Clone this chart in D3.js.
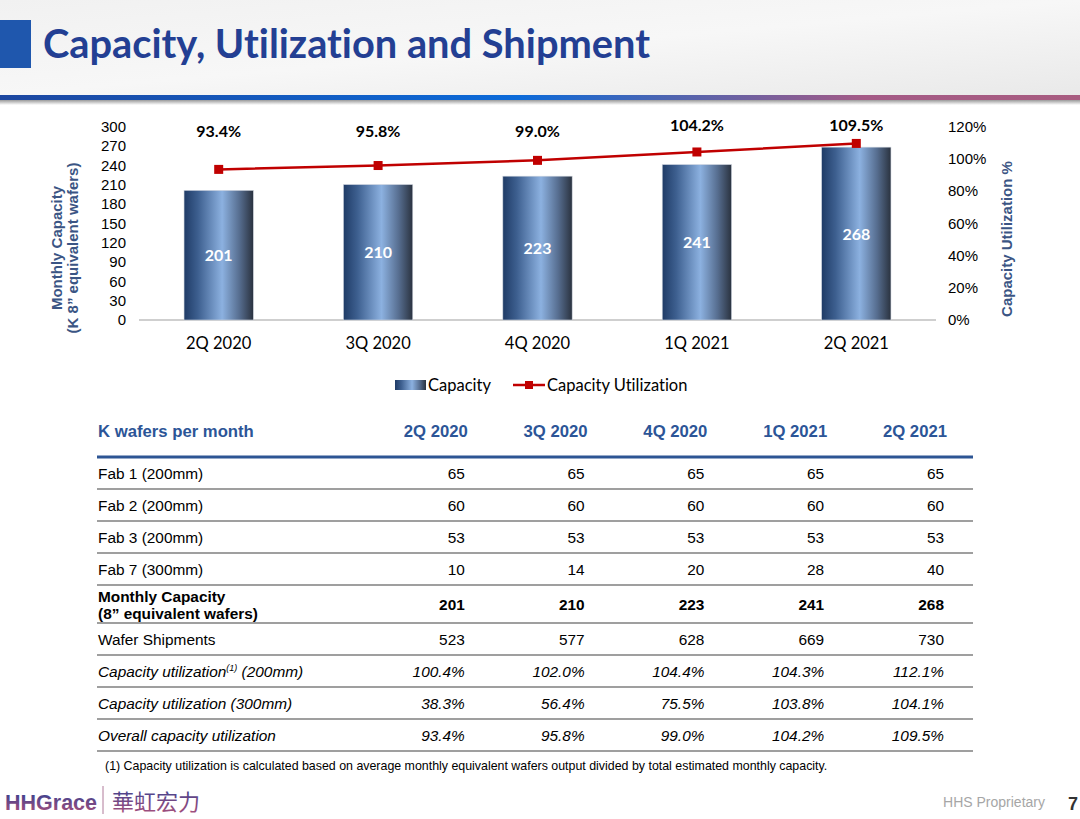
<!DOCTYPE html>
<html><head><meta charset="utf-8">
<script src="https://cdn.jsdelivr.net/npm/d3@7"></script>
<style>
html,body{margin:0;padding:0;background:#fff;}
svg{display:block;font-variant-ligatures:none;}
</style></head>
<body>
<svg id="c" width="1080" height="819"></svg>
<script>
// ---------- DATA ----------
const categories = ["2Q 2020","3Q 2020","4Q 2020","1Q 2021","2Q 2021"];
const capacity = [201,210,223,241,268];
const utilization = [93.4,95.8,99.0,104.2,109.5];
const leftTicks = [0,30,60,90,120,150,180,210,240,270,300];
const rightTicks = [0,20,40,60,80,100,120];
const fab1 = [65,65,65,65,65];
const fab2 = [60,60,60,60,60];
const fab3 = [53,53,53,53,53];
const fab7 = [10,14,20,28,40];
const shipments = [523,577,628,669,730];
const util200 = [100.4,102.0,104.4,104.3,112.1];
const util300 = [38.3,56.4,75.5,103.8,104.1];

const svg = d3.select("#c");
const defs = svg.append("defs");

// ---------- HEADER ----------
const hg = defs.append("linearGradient").attr("id","hdr").attr("x1",0).attr("x2",1).attr("y1",0).attr("y2",1);
hg.append("stop").attr("offset","0%").attr("stop-color","#f1f1f1");
hg.append("stop").attr("offset","50%").attr("stop-color","#f7f7f7");
hg.append("stop").attr("offset","100%").attr("stop-color","#e9e9e9");
svg.append("rect").attr("x",0).attr("y",0).attr("width",1080).attr("height",95).attr("fill","url(#hdr)");
const band = defs.append("linearGradient").attr("id","band");
band.append("stop").attr("offset","0%").attr("stop-color","#1d47a0");
band.append("stop").attr("offset","48%").attr("stop-color","#0b6ad9");
band.append("stop").attr("offset","62%").attr("stop-color","#4e64b0");
band.append("stop").attr("offset","80%").attr("stop-color","#a45a86");
band.append("stop").attr("offset","100%").attr("stop-color","#a85c80");
const shadow = defs.append("linearGradient").attr("id","shd").attr("x1",0).attr("x2",0).attr("y1",0).attr("y2",1);
shadow.append("stop").attr("offset","0%").attr("stop-color","#9a9a9a");
shadow.append("stop").attr("offset","100%").attr("stop-color","#ffffff");
svg.append("rect").attr("x",0).attr("y",100).attr("width",1080).attr("height",5).attr("fill","url(#shd)");
svg.append("rect").attr("x",0).attr("y",95).attr("width",1080).attr("height",5).attr("fill","url(#band)");
svg.append("rect").attr("x",0).attr("y",20).attr("width",31).attr("height",48).attr("fill","#1f57ad");
svg.append("text").attr("x",43).attr("y",58)
  .attr("font-family","Lato, 'Open Sans', sans-serif").attr("font-weight","bold").attr("font-size",41)
  .attr("fill","#233f93").attr("textLength",607).attr("lengthAdjust","spacingAndGlyphs")
  .text("Capacity, Utilization and Shipment");

// ---------- CHART ----------
const x = d3.scaleBand().domain(categories).range([139,936]).paddingInner(0.565).paddingOuter(0.2825);
const yL = d3.scaleLinear().domain([0,300]).range([320,126.5]);
const yR = d3.scaleLinear().domain([0,120]).range([320,126.5]);

const bg = defs.append("linearGradient").attr("id","bar");
[["0%","#1f3b66"],["20%","#3d5f8f"],["55%","#8cb1e0"],["80%","#566d8f"],["100%","#2a323f"]]
  .forEach(([o,c])=>bg.append("stop").attr("offset",o).attr("stop-color",c));

// left ticks
svg.append("g").attr("transform","translate(139,0)")
  .call(d3.axisLeft(yL).tickValues(leftTicks).tickSize(0).tickPadding(13))
  .call(g=>g.select(".domain").remove())
  .call(g=>g.selectAll("text").attr("font-family","'Liberation Sans', Arial, sans-serif").attr("font-size",15).attr("fill","#000"));
// right ticks
svg.append("g").attr("transform","translate(935,0)")
  .call(d3.axisRight(yR).tickValues(rightTicks).tickSize(0).tickPadding(13).tickFormat(d=>d+"%"))
  .call(g=>g.select(".domain").remove())
  .call(g=>g.selectAll("text").attr("font-family","'Liberation Sans', Arial, sans-serif").attr("font-size",15).attr("fill","#000"));

// baseline
svg.append("line").attr("x1",139).attr("x2",936).attr("y1",yL(0)).attr("y2",yL(0)).attr("stroke","#bfbfbf").attr("stroke-width",1.5);

// bars
svg.append("g").selectAll("rect").data(capacity).join("rect")
  .attr("x",(d,i)=>x(categories[i])).attr("width",x.bandwidth())
  .attr("y",d=>yL(d)).attr("height",d=>yL(0)-yL(d))
  .attr("fill","url(#bar)").attr("stroke","#d0d6df").attr("stroke-width",0.6);
svg.append("g").selectAll("text").data(capacity).join("text")
  .attr("x",(d,i)=>x(categories[i])+x.bandwidth()/2).attr("y",d=>(yL(d)+yL(0))/2+6)
  .attr("text-anchor","middle").attr("font-family","Lato, sans-serif").attr("font-weight","bold")
  .attr("font-size",16).attr("fill","#fff").text(d=>d);

// category labels
svg.append("g").selectAll("text").data(categories).join("text")
  .attr("x",d=>x(d)+x.bandwidth()/2).attr("y",349).attr("text-anchor","middle")
  .attr("font-family","Lato, sans-serif").attr("font-size",16.5).attr("fill","#000").text(d=>d);

// line
const cx = (i)=>x(categories[i])+x.bandwidth()/2;
svg.append("path").datum(utilization)
  .attr("d",d3.line().x((d,i)=>cx(i)).y(d=>yR(d)))
  .attr("fill","none").attr("stroke","#c00000").attr("stroke-width",2.5);
svg.append("g").selectAll("rect").data(utilization).join("rect")
  .attr("x",(d,i)=>cx(i)-4.5).attr("y",d=>yR(d)-4.5).attr("width",9).attr("height",9).attr("fill","#c00000");
svg.append("g").selectAll("text").data(utilization).join("text")
  .attr("x",(d,i)=>cx(i)).attr("y",d=>d>100?131:137).attr("text-anchor","middle")
  .attr("font-family","Lato, sans-serif").attr("font-weight","bold").attr("font-size",16).attr("fill","#000")
  .text(d=>d.toFixed(1)+"%");

// axis titles
const axTitle = {"font-family":"'Liberation Sans', Arial, sans-serif","font-weight":"bold","font-size":15,"fill":"#3b5584"};
function applyAttrs(sel,o){for(const k in o) sel.attr(k,o[k]); return sel;}
applyAttrs(svg.append("text"),axTitle).attr("transform","translate(62,248) rotate(-90)").attr("text-anchor","middle").text("Monthly Capacity");
applyAttrs(svg.append("text"),axTitle).attr("transform","translate(78,248) rotate(-90)").attr("text-anchor","middle").text("(K 8\u201D equivalent wafers)");
applyAttrs(svg.append("text"),axTitle).attr("transform","translate(1012,239) rotate(-90)").attr("text-anchor","middle").text("Capacity Utilization %");

// legend
svg.append("rect").attr("x",395).attr("y",380).attr("width",31).attr("height",10).attr("fill","url(#bar)");
svg.append("text").attr("x",428).attr("y",391).attr("font-family","Lato, sans-serif").attr("font-size",16.5).text("Capacity");
svg.append("line").attr("x1",513).attr("x2",545).attr("y1",385).attr("y2",385).attr("stroke","#c00000").attr("stroke-width",2.5);
svg.append("rect").attr("x",525).attr("y",381).attr("width",8).attr("height",8).attr("fill","#c00000");
svg.append("text").attr("x",547).attr("y",391).attr("font-family","Lato, sans-serif").attr("font-size",16.5).text("Capacity Utilization");

// ---------- TABLE ----------
const tx = d3.scaleBand().domain(categories).range([346,945]);
const colRight = c=>tx(c)+tx.bandwidth();
const F = "'Liberation Sans', Arial, sans-serif";
const FS = 15.4;
svg.append("text").attr("x",98).attr("y",437).attr("font-family",F).attr("font-weight","bold").attr("font-size",16.7).attr("fill","#2c5597").text("K wafers per month");
svg.append("g").selectAll("text").data(categories).join("text")
  .attr("x",d=>colRight(d)+2).attr("y",437).attr("text-anchor","end")
  .attr("font-family",F).attr("font-weight","bold").attr("font-size",16.7).attr("fill","#2c5597").text(d=>d);
svg.append("line").attr("x1",97).attr("x2",973).attr("y1",457).attr("y2",457).attr("stroke","#2d5594").attr("stroke-width",3);

const rows = [
  {label:["Fab 1 (200mm)"], vals:fab1, fmt:d=>d, h:32},
  {label:["Fab 2 (200mm)"], vals:fab2, fmt:d=>d, h:32},
  {label:["Fab 3 (200mm)"], vals:fab3, fmt:d=>d, h:32},
  {label:["Fab 7 (300mm)"], vals:fab7, fmt:d=>d, h:32},
  {label:["Monthly Capacity","(8\u201D equivalent wafers)"], vals:capacity, fmt:d=>d, h:38, bold:true},
  {label:["Wafer Shipments"], vals:shipments, fmt:d=>d, h:32},
  {label:["Capacity utilization","(1)"," (200mm)"], vals:util200, fmt:d=>d.toFixed(1)+"%", h:32, italic:true, sup:true},
  {label:["Capacity utilization (300mm)"], vals:util300, fmt:d=>d.toFixed(1)+"%", h:32, italic:true},
  {label:["Overall capacity utilization"], vals:utilization, fmt:d=>d.toFixed(1)+"%", h:32, italic:true}
];
let rowTop = 457;
rows.forEach(r=>{
  const mid = rowTop + r.h/2;
  const base = mid + 5.5;
  const st = r.italic ? "italic" : "normal";
  const wt = r.bold ? "bold" : "normal";
  if (r.label.length===2 && !r.sup) {
    svg.append("text").attr("x",98).attr("y",mid-2).attr("font-family",F).attr("font-weight",wt).attr("font-size",FS).text(r.label[0]);
    svg.append("text").attr("x",98).attr("y",mid+15).attr("font-family",F).attr("font-weight",wt).attr("font-size",FS).text(r.label[1]);
  } else if (r.sup) {
    const t = svg.append("text").attr("x",98).attr("y",base).attr("font-family",F).attr("font-style",st).attr("font-size",FS);
    t.append("tspan").text(r.label[0]);
    t.append("tspan").attr("font-size",9).attr("dy",-6).text(r.label[1]);
    t.append("tspan").attr("dy",6).text(r.label[2]);
  } else {
    svg.append("text").attr("x",98).attr("y",base).attr("font-family",F).attr("font-style",st).attr("font-weight",wt).attr("font-size",FS).text(r.label[0]);
  }
  svg.append("g").selectAll("text").data(r.vals).join("text")
    .attr("x",(d,i)=>colRight(categories[i])-1).attr("y",base).attr("text-anchor","end")
    .attr("font-family",F).attr("font-style",st).attr("font-weight",wt).attr("font-size",FS).text(r.fmt);
  rowTop += r.h;
  svg.append("line").attr("x1",97).attr("x2",973).attr("y1",rowTop).attr("y2",rowTop).attr("stroke","#7f7f7f").attr("stroke-width",1.5);
});

svg.append("text").attr("x",105).attr("y",770).attr("font-family",F).attr("font-size",12.4).attr("fill","#000")
  .text("(1) Capacity utilization is calculated based on average monthly equivalent wafers output divided by total estimated monthly capacity.");

// ---------- FOOTER ----------
const lg = defs.append("linearGradient").attr("id","logo").attr("x1",0).attr("x2",0).attr("y1",0).attr("y2",1);
lg.append("stop").attr("offset","0%").attr("stop-color","#2b3f92");
lg.append("stop").attr("offset","100%").attr("stop-color","#b0507a");
svg.append("text").attr("x",5).attr("y",810).attr("font-family",F).attr("font-weight","bold").attr("font-size",22)
  .attr("fill","url(#logo)").attr("textLength",92).attr("lengthAdjust","spacingAndGlyphs").text("HHGrace");
svg.append("line").attr("x1",103).attr("x2",103).attr("y1",786).attr("y2",814).attr("stroke","#b07a9a").attr("stroke-width",1);
svg.append("text").attr("x",112).attr("y",810).attr("font-family","'Noto Sans CJK SC', sans-serif").attr("font-size",22)
  .attr("fill","url(#logo)").attr("textLength",88).attr("lengthAdjust","spacingAndGlyphs").text("華虹宏力");
svg.append("text").attr("x",1045).attr("y",807).attr("text-anchor","end").attr("font-family",F).attr("font-size",14).attr("fill","#a6a6a6").text("HHS Proprietary");
svg.append("text").attr("x",1068).attr("y",810).attr("font-family",F).attr("font-weight","bold").attr("font-size",18).attr("fill","#333").text("7");
</script>
</body></html>
